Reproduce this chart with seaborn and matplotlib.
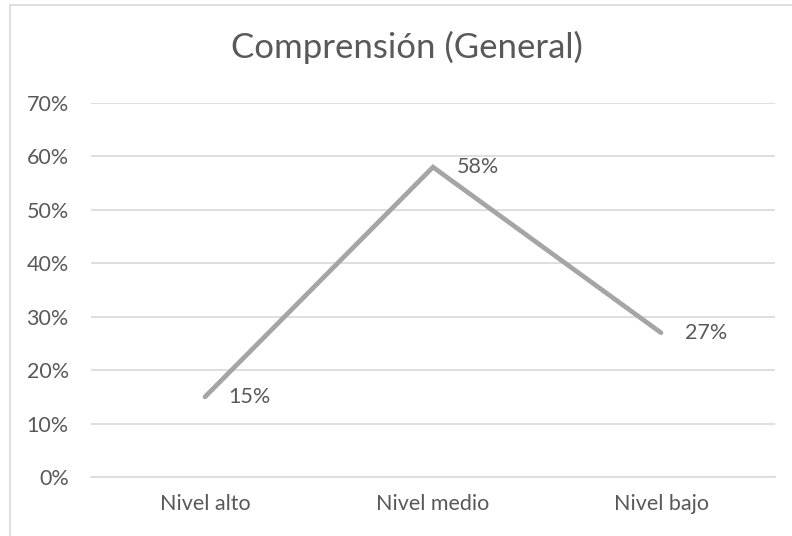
import matplotlib
matplotlib.use("Agg")
import matplotlib.pyplot as plt
from matplotlib.lines import Line2D
from matplotlib.ticker import PercentFormatter
import seaborn as sns
import pandas as pd

# data
categories = ["Nivel alto", "Nivel medio", "Nivel bajo"]
values = [0.15, 0.58, 0.27]
value_labels = ["15%", "58%", "27%"]
title = "Comprensión (General)"

df = pd.DataFrame({"nivel": categories, "pct": values})

sns.set_theme(style="white")
plt.rcParams["font.family"] = ["Lato", "DejaVu Sans"]

text_color = "#595959"
grid_color = "#D9D9D9"

fig = plt.figure(figsize=(7.92, 5.36), dpi=100)
ax = fig.add_axes([91 / 792, 1 - 477 / 536, (775 - 91) / 792, (477 - 103) / 536])

sns.lineplot(data=df, x="nivel", y="pct", ax=ax, color="#A5A5A5",
             linewidth=3.4, sort=False, solid_capstyle="round",
             solid_joinstyle="miter")

for i, (v, lab) in enumerate(zip(values, value_labels)):
    ax.annotate(lab, (i, v), xytext=(17, 0), textcoords="offset points",
                va="center", ha="left", fontsize=15.5, color=text_color)

ax.set_xlim(-0.5, 2.5)
ax.set_ylim(0, 0.7)
ax.set_yticks([i / 10 for i in range(8)])
ax.yaxis.set_major_formatter(PercentFormatter(1.0, decimals=0))
ax.grid(axis="y", color=grid_color, linewidth=1.2)
ax.set_axisbelow(True)
for s in ["left", "right", "top"]:
    ax.spines[s].set_visible(False)
ax.spines["bottom"].set_color(grid_color)
ax.spines["bottom"].set_linewidth(1.2)
ax.tick_params(axis="both", length=0, labelsize=15.5, labelcolor=text_color)
ax.tick_params(axis="y", pad=16)
ax.tick_params(axis="x", pad=12)
ax.set_xlabel("")
ax.set_ylabel("")

fig.text(407 / 792, 1 - 47 / 536, title, ha="center", va="center",
         fontsize=25, color=text_color)

# chart border (only left and top edges fall inside the image)
fig.add_artist(Line2D([10 / 792, 10 / 792], [0, 1 - 5 / 536],
                      transform=fig.transFigure, color=grid_color, linewidth=1.2))
fig.add_artist(Line2D([10 / 792, 1], [1 - 5 / 536, 1 - 5 / 536],
                      transform=fig.transFigure, color=grid_color, linewidth=1.2))

fig.savefig("out.png", dpi=100)
